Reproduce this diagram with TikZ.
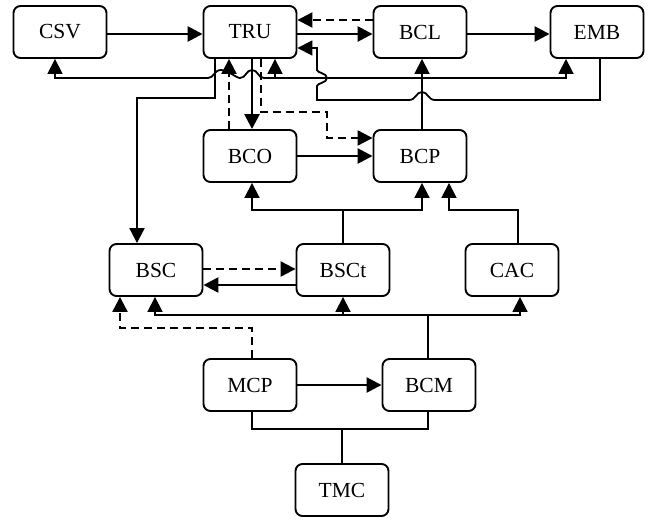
\documentclass[tikz,border=0pt]{standalone}
\usepackage{fontspec}
\setmainfont{Liberation Serif}
\usetikzlibrary{arrows.meta}
\begin{document}
\begin{tikzpicture}[x=1pt,y=-1pt,
  blk/.style={draw,line width=1.9pt,rounded corners=7pt,minimum width=93pt,
    minimum height=52pt,inner sep=0pt,font=\fontsize{21.5}{24}\selectfont},
  wire/.style={line width=1.8pt},
  arr/.style={line width=1.8pt,-{Triangle[length=15pt,width=15pt]}},
  bold/.style={line width=2.6pt},
  dsh/.style={dash pattern=on 8pt off 5pt}]
\useasboundingbox (0,0) rectangle (650,519);

% blocks
\node[blk] (CSV)  at (60,32)   {CSV};
\node[blk] (TRU)  at (250,32)  {TRU};
\node[blk] (BCL)  at (420,32)  {BCL};
\node[blk] (EMB)  at (597,32)  {EMB};
\node[blk] (BCO)  at (250,156) {BCO};
\node[blk] (BCP)  at (420,156) {BCP};
\node[blk] (BSC)  at (156,270) {BSC};
\node[blk] (BSCt) at (343,270) {BSCt};
\node[blk] (CAC)  at (512,270) {CAC};
\node[blk] (MCP)  at (250,385) {MCP};
\node[blk] (BCM)  at (429,385) {BCM};
\node[blk] (TMC)  at (342,490) {TMC};

% top row
\draw[arr,bold] ([yshift=-2pt]CSV.east) -- ([yshift=-2pt]TRU.west);
\draw[arr,bold] ([yshift=-2pt]TRU.east) -- ([yshift=-2pt]BCL.west);
\draw[arr,bold] ([yshift=-2pt]BCL.east) -- ([yshift=-2pt]EMB.west);
\draw[arr,dsh,line width=2.2pt] ([yshift=12pt]BCL.west) -- ([yshift=12pt]TRU.east);

% EMB feedback to TRU, jumping over the crossing wires
\draw[arr] ([xshift=3pt]EMB.south) -- (600,100) -- (435,100)
  .. controls (428,100) and (428,92) .. (422,92)
  .. controls (416,92) and (416,100) .. (409,100)
  -- (317,100) -- (317,86)
  .. controls (317,83) and (327,83) .. (327,78)
  .. controls (327,73) and (317,73) .. (317,70)
  -- (317,48) -- ([yshift=-16pt]TRU.east);

% BCP outputs
\draw[arr] ([xshift=2pt]BCP.north) -- ([xshift=2pt]BCL.south);
\draw[arr] (422,78) -- (566,78) -- ([xshift=-31pt]EMB.south);
\draw[arr] (275,78) -- ([xshift=25pt]TRU.south);
\draw[arr] (422,78) -- (264,78)
  .. controls (258,78) and (258,70) .. (252,70)
  .. controls (246,70) and (246,78) .. (240,78)
  .. controls (236,78) and (228,70) .. (221,70)
  .. controls (214,70) and (214,78) .. (208,78)
  -- (55,78) -- ([xshift=-5pt]CSV.south);

% TRU outputs downwards
\draw[arr,line width=2.1pt] ([xshift=-35pt]TRU.south) |- (137,98) -- ([xshift=-19pt]BSC.north);
\draw[arr,bold] ([xshift=2pt]TRU.south) -- ([xshift=2pt]BCO.north);
\draw[arr,dsh,line width=2.2pt] ([xshift=-21pt]BCO.north) -- ([xshift=-21pt]TRU.south);
\draw[arr,dsh,line width=2.2pt] ([xshift=11pt]TRU.south) |- (327,112)
  |- ([yshift=18pt]BCP.west);
\draw[arr,bold] (BCO.east) -- (BCP.west);

% middle row
\draw[wire] (BSCt.north) -- (343,210);
\draw[arr] (343,210) -| ([xshift=2pt]BCO.south);
\draw[arr] (343,210) -| ([xshift=2pt]BCP.south);
\draw[arr] ([xshift=6pt]CAC.north) |- (449,210) -- ([xshift=29pt]BCP.south);
\draw[arr,dsh,line width=2.2pt] ([yshift=1pt]BSC.east) -- ([yshift=1pt]BSCt.west);
\draw[arr,line width=2.4pt] ([yshift=-15pt]BSCt.west) -- ([yshift=-15pt]BSC.east);

% BCM distribution bus
\draw[wire] ([xshift=-1pt]BCM.north) -- (428,315);
\draw[arr] (428,315) -| ([xshift=-1pt]BSC.south);
\draw[arr] (428,315) -| ([xshift=8pt]CAC.south);
\draw[arr] (343,315) -- (BSCt.south);

% MCP links
\draw[arr,dsh,line width=2.2pt] ([xshift=2pt]MCP.north) |- (120,328)
  -- ([xshift=-36pt]BSC.south);
\draw[arr,bold] (MCP.east) -- (BCM.west);
\draw[wire] ([xshift=2pt]MCP.south) -- (252,429) -- (428,429)
  -- ([xshift=-1pt]BCM.south);
\draw[wire] (TMC.north) -- (342,429);
\end{tikzpicture}
\end{document}
